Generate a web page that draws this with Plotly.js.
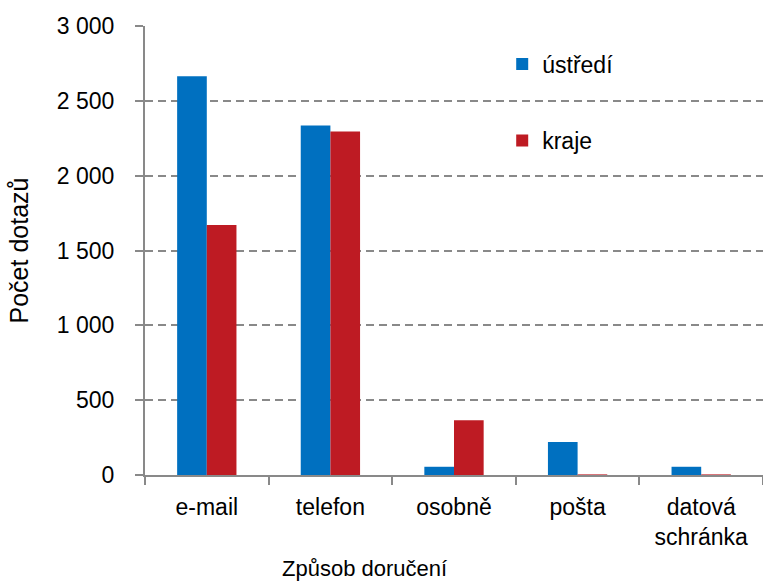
<!DOCTYPE html>
<html>
<head>
<meta charset="utf-8">
<script src="https://cdn.plot.ly/plotly-3.0.1.min.js"></script>
<style>html,body{margin:0;padding:0;background:#fff;}#chart{width:763px;height:581px;}</style>
</head>
<body>
<div id="chart"></div>
<script>
const categories = ["e-mail", "telefon", "osobně", "pošta", "datová<br>schránka"];
const ustredi = [2665, 2335, 55, 220, 55];
const kraje = [1670, 2295, 365, 4, 4];
const seriesNames = ["ústředí", "kraje"];
const xTitle = "Způsob doručení";
const yTitle = "Počet dotazů";

const font = "Liberation Sans, Arial, sans-serif";
const fs = 23;

const traces = [
  {type: "bar", x: categories, y: ustredi, name: seriesNames[0],
   marker: {color: "#0070C0"}, legend: "legend"},
  {type: "bar", x: categories, y: kraje, name: seriesNames[1],
   marker: {color: "#BE1B23"}, legend: "legend2"}
];

const layout = {
  width: 763, height: 581,
  margin: {l: 145, r: 0, t: 26, b: 106},
  paper_bgcolor: "#fff", plot_bgcolor: "#fff",
  separators: ", ",
  font: {family: font, size: fs, color: "#000"},
  barmode: "group", bargap: 0.52, bargroupgap: 0,
  xaxis: {
    showline: true, linecolor: "#898989", linewidth: 2,
    ticks: "outside", ticklen: 8, tickcolor: "#898989", tickwidth: 2,
    tickson: "boundaries", ticklabelstandoff: 10,
    showgrid: false, zeroline: false,
    tickfont: {size: fs}
  },
  yaxis: {
    range: [0, 3000], dtick: 500, tickformat: ",d",
    showline: true, linecolor: "#898989", linewidth: 2,
    ticks: "outside", ticklen: 8, tickcolor: "#898989", tickwidth: 2,
    ticklabelstandoff: 16,
    showgrid: true, gridcolor: "#898989", gridwidth: 2, griddash: "8px,5px",
    zeroline: false,
    title: {text: yTitle, font: {size: 25}, standoff: 21},
    tickfont: {size: fs}
  },
  showlegend: true,
  legend: {x: 0.578, y: 0.915, xanchor: "left", yanchor: "middle",
           bgcolor: "rgba(0,0,0,0)", font: {size: fs}, itemwidth: 30},
  legend2: {x: 0.578, y: 0.745, xanchor: "left", yanchor: "middle",
           bgcolor: "rgba(0,0,0,0)", font: {size: fs}, itemwidth: 30},
  annotations: [
    {text: xTitle, xref: "paper", yref: "paper", x: (364 - 145) / 618, y: 0,
     yshift: -93, xanchor: "center", yanchor: "middle", showarrow: false,
     font: {size: 22}}
  ]
};

Plotly.newPlot("chart", traces, layout, {displayModeBar: false, staticPlot: true});
</script>
</body>
</html>
